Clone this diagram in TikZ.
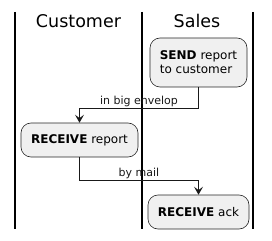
\documentclass[tikz,border=0pt]{standalone}
\usepackage{fontspec}
\setmainfont{DejaVu Sans}
\usetikzlibrary{arrows.meta}
\begin{document}
\begin{tikzpicture}[x=1pt,y=-1pt,
  lane/.style={line width=1.5pt,black},
  act/.style={draw=black!85,fill=black!6,rounded corners=10pt,line width=0.6pt,inner sep=0pt,font=\fontsize{12}{14}\selectfont},
  flow/.style={line width=0.7pt,black!90,-{Stealth[length=8pt,width=9pt,inset=3.5pt]}},
  lbl/.style={font=\fontsize{11}{12}\selectfont,inner sep=1pt},
  hdr/.style={font=\fontsize{17.5}{20}\selectfont,inner sep=0pt}]
\useasboundingbox (0,0) rectangle (272,240);
\coordinate (l1t) at (15,12); \coordinate (l1b) at (15,229);
\coordinate (l2t) at (142,12); \coordinate (l2b) at (142,229);
\coordinate (l3t) at (253,12); \coordinate (l3b) at (253,229);
\draw[lane] (l1t) -- (l1b);
\draw[lane] (l2t) -- (l2b);
\draw[lane] (l3t) -- (l3b);
\node[hdr,anchor=base] (hc) at (78.5,28) {Customer};
\node[hdr,anchor=base] (hs) at (197,28) {Sales};
\node[act,minimum width=97pt,minimum height=49pt,align=left] (send) at (198.5,62.5) {\textbf{SEND} report\\to customer};
\node[act,minimum width=117pt,minimum height=34pt] (rr) at (79.5,140) {\textbf{RECEIVE} report};
\node[act,minimum width=101pt,minimum height=34pt] (ra) at (198.5,212) {\textbf{RECEIVE} ack};
\draw[flow] (send.south) -- ++(0,21) -| node[lbl,pos=0.25,above] (l1) {in big envelop} (rr.north);
\draw[flow] (rr.south) -- ++(0,23) -| node[lbl,pos=0.25,above] (l2) {by mail} (ra.north);
\end{tikzpicture}
\end{document}
